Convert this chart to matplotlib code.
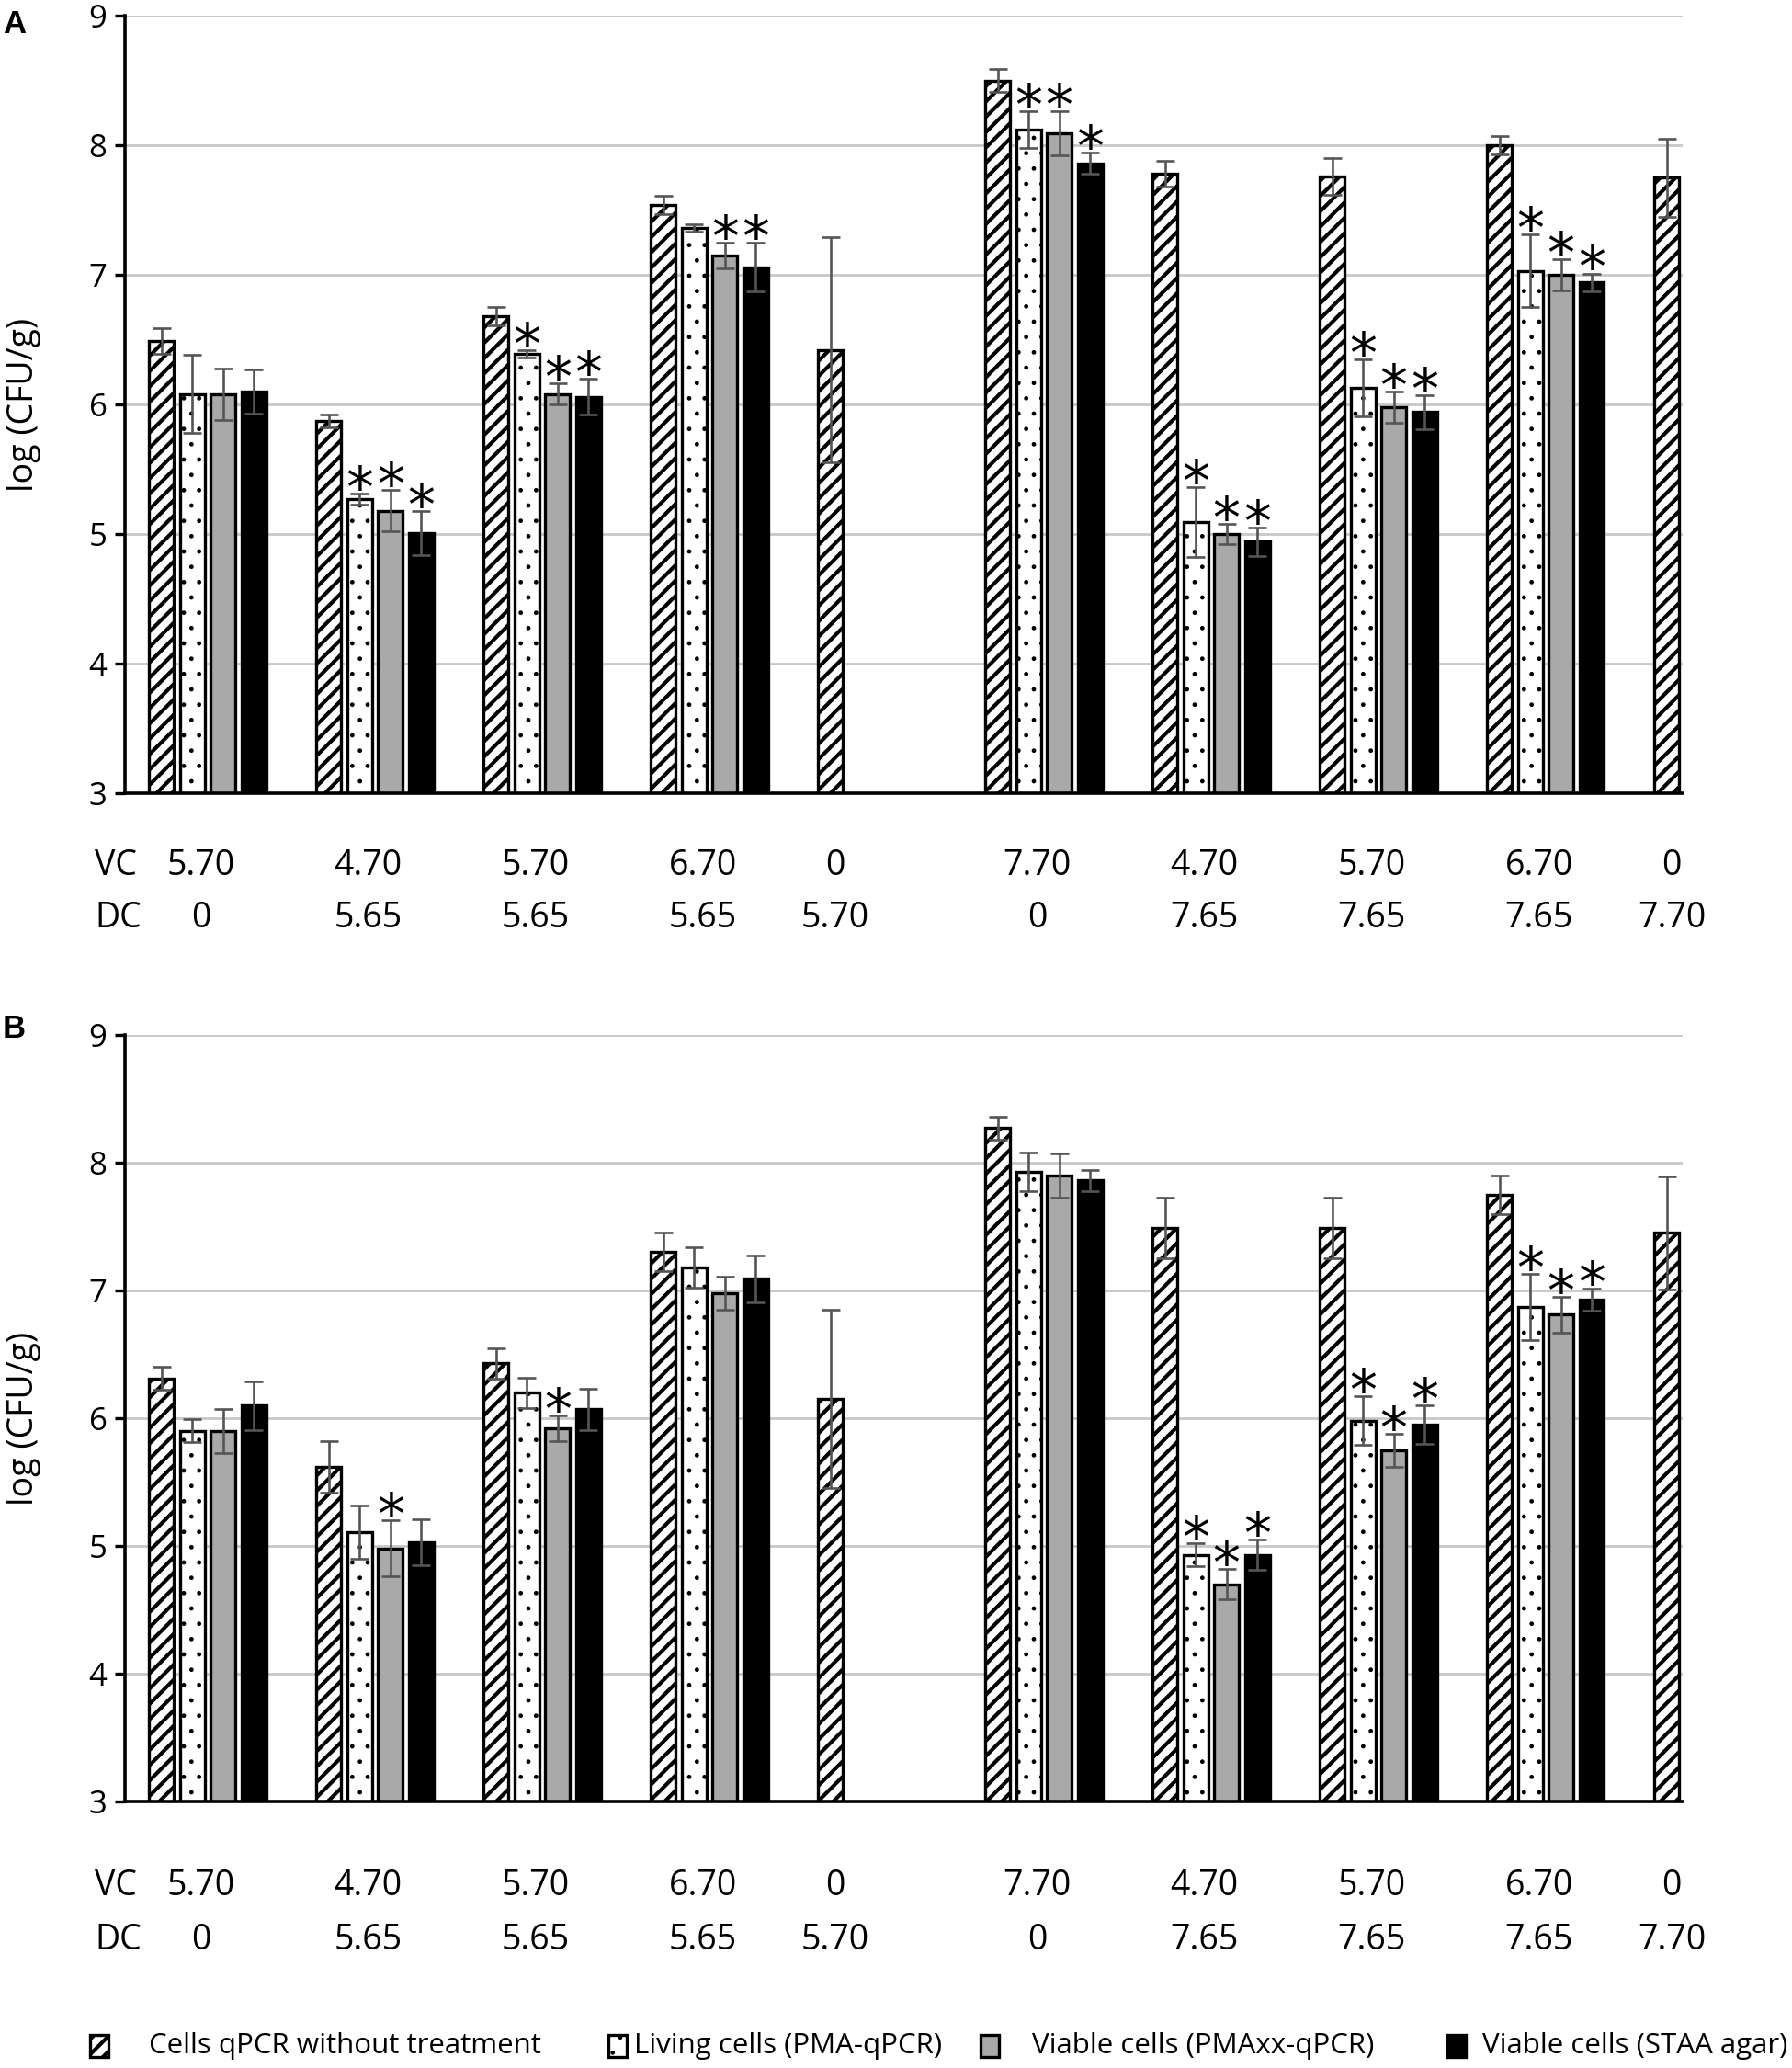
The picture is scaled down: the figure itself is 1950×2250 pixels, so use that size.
import numpy as np
import matplotlib
matplotlib.use('Agg')
import matplotlib.pyplot as plt
from matplotlib.patches import Rectangle
from matplotlib import transforms

plt.rcParams['font.family'] = ['Open Sans', 'DejaVu Sans']
plt.rcParams['hatch.linewidth'] = 3.0

nan = np.nan

# ---------------- data ----------------
vc_labels = ['5.70', '4.70', '5.70', '6.70', '0', '7.70', '4.70', '5.70', '6.70', '0']
dc_labels = ['0', '5.65', '5.65', '5.65', '5.70', '0', '7.65', '7.65', '7.65', '7.70']
series_names = ['Cells qPCR without treatment', 'Living cells (PMA-qPCR)',
                'Viable cells (PMAxx-qPCR)', 'Viable cells (STAA agar)']
yticks = [3, 4, 5, 6, 7, 8, 9]

# Panel A
A_qpcr = [6.49, 5.87, 6.68, 7.54, 6.42, 8.50, 7.78, 7.76, 8.00, 7.75]
A_qpcr_err = [0.10, 0.05, 0.07, 0.07, 0.87, 0.09, 0.10, 0.14, 0.07, 0.30]
A_pma = [6.08, 5.27, 6.39, 7.36, nan, 8.12, 5.09, 6.13, 7.03, nan]
A_pma_err = [0.30, 0.04, 0.03, 0.03, nan, 0.14, 0.27, 0.22, 0.28, nan]
A_pmaxx = [6.08, 5.18, 6.08, 7.15, nan, 8.09, 5.00, 5.98, 7.00, nan]
A_pmaxx_err = [0.20, 0.16, 0.08, 0.10, nan, 0.17, 0.08, 0.12, 0.12, nan]
A_staa = [6.10, 5.01, 6.06, 7.06, nan, 7.86, 4.94, 5.94, 6.94, nan]
A_staa_err = [0.17, 0.17, 0.14, 0.19, nan, 0.08, 0.11, 0.13, 0.07, nan]
A_qpcr_sig = [0, 0, 0, 0, 0, 0, 0, 0, 0, 0]
A_pma_sig = [0, 1, 1, 0, 0, 1, 1, 1, 1, 0]
A_pmaxx_sig = [0, 1, 1, 1, 0, 1, 1, 1, 1, 0]
A_staa_sig = [0, 1, 1, 1, 0, 1, 1, 1, 1, 0]

# Panel B
B_qpcr = [6.31, 5.62, 6.43, 7.30, 6.15, 8.27, 7.49, 7.49, 7.75, 7.45]
B_qpcr_err = [0.09, 0.20, 0.12, 0.15, 0.70, 0.09, 0.24, 0.24, 0.15, 0.44]
B_pma = [5.90, 5.11, 6.20, 7.18, nan, 7.93, 4.93, 5.98, 6.87, nan]
B_pma_err = [0.09, 0.21, 0.12, 0.16, nan, 0.15, 0.09, 0.19, 0.26, nan]
B_pmaxx = [5.90, 4.98, 5.92, 6.98, nan, 7.90, 4.70, 5.75, 6.81, nan]
B_pmaxx_err = [0.17, 0.22, 0.10, 0.13, nan, 0.17, 0.12, 0.13, 0.14, nan]
B_staa = [6.10, 5.03, 6.07, 7.09, nan, 7.86, 4.93, 5.95, 6.93, nan]
B_staa_err = [0.19, 0.18, 0.16, 0.18, nan, 0.08, 0.12, 0.15, 0.085, nan]
B_qpcr_sig = [0, 0, 0, 0, 0, 0, 0, 0, 0, 0]
B_pma_sig = [0, 0, 0, 0, 0, 0, 1, 1, 1, 0]
B_pmaxx_sig = [0, 1, 1, 0, 0, 0, 1, 1, 1, 0]
B_staa_sig = [0, 0, 0, 0, 0, 0, 1, 1, 1, 0]

# ---------------- styles ----------------
styles = [
    dict(fc='white', hatch='//', hlw=3.0),
    dict(fc='white', hatch='.', hlw=1.0),
    dict(fc='#a9a9a9', hatch=None, hlw=1.0),
    dict(fc='black', hatch=None, hlw=1.0),
]
slot = 0.184
bw = 0.148
ERR_COLOR = '#555555'
W, H = 1950, 2250

fig = plt.figure(figsize=(W / 100, H / 100), dpi=100)


def fx(px):
    return px / W


def fy(py):
    return 1 - py / H


def set_hlw(patch, lw):
    if hasattr(patch, 'set_hatch_linewidth'):
        try:
            patch.set_hatch_linewidth(lw)
        except Exception:
            pass


def draw_panel(ax, values, errors, sigs, vc_y, dc_y):
    n = len(vc_labels)
    x = np.arange(n)
    present = np.zeros((len(values), n), dtype=bool)
    for k, (vals, errs, sg) in enumerate(zip(values, errors, sigs)):
        sty = styles[k]
        vals = np.asarray(vals, float)
        errs = np.asarray(errs, float)
        mask = ~np.isnan(vals)
        present[k] = mask
        pos = x + (k - 1.5) * slot
        with plt.rc_context({'hatch.linewidth': sty['hlw']}):
            bars = ax.bar(pos[mask], vals[mask], width=bw, color=sty['fc'],
                          edgecolor='black', linewidth=2.4, hatch=sty['hatch'],
                          zorder=2)
        for b in bars:
            set_hlw(b, sty['hlw'])
        ax.errorbar(pos[mask], vals[mask], yerr=errs[mask], fmt='none',
                    ecolor=ERR_COLOR, elinewidth=1.9, capsize=7, capthick=1.9,
                    zorder=3)
        for i in range(n):
            if mask[i] and sg[i]:
                ax.annotate('*', xy=(pos[i], vals[i] + errs[i]), xytext=(0, -10),
                            textcoords='offset points', ha='center', va='baseline',
                            fontsize=43, family='DejaVu Sans', zorder=4)
    ax.set_xlim(-0.495, 8.82)
    ax.set_ylim(3, 9)
    ax.set_yticks(yticks)
    ax.set_xticks([])
    ax.yaxis.grid(True, color='#c8c8c8', linewidth=2.0)
    ax.set_axisbelow(True)
    for s in ['top', 'right']:
        ax.spines[s].set_visible(False)
    for s in ['left', 'bottom']:
        ax.spines[s].set_linewidth(2.6)
        ax.spines[s].set_color('black')
    ax.tick_params(axis='y', length=8, width=2.4, pad=6, labelsize=25)

    # VC / DC rows
    tr = transforms.blended_transform_factory(ax.transData, fig.transFigure)
    for i in range(n):
        ks = np.where(present[:, i])[0]
        shift = -0.04 if len(ks) > 1 else 0.03
        xl = np.mean(i + (ks - 1.5) * slot) + shift
        ax.text(xl, vc_y, vc_labels[i], transform=tr, ha='center', va='center',
                fontsize=27, clip_on=False)
        ax.text(xl, dc_y, dc_labels[i], transform=tr, ha='center', va='center',
                fontsize=27, clip_on=False)
    fig.text(fx(103), vc_y, 'VC', ha='left', va='center', fontsize=27)
    fig.text(fx(103), dc_y, 'DC', ha='left', va='center', fontsize=27)


# Panel A
axA = fig.add_axes([fx(136), fy(863), fx(1831) - fx(136), fy(17) - fy(863)])
draw_panel(axA, [A_qpcr, A_pma, A_pmaxx, A_staa],
           [A_qpcr_err, A_pma_err, A_pmaxx_err, A_staa_err],
           [A_qpcr_sig, A_pma_sig, A_pmaxx_sig, A_staa_sig], fy(942), fy(999))
fig.text(fx(26), fy(440), 'log (CFU/g)', rotation=90, ha='center', va='center',
         fontsize=27)
fig.text(fx(3), fy(10), 'A', ha='left', va='top', fontsize=25, fontweight='bold',
         family=['Liberation Sans', 'DejaVu Sans'])

# Panel B
axB = fig.add_axes([fx(136), fy(1960), fx(1831) - fx(136), fy(1126) - fy(1960)])
draw_panel(axB, [B_qpcr, B_pma, B_pmaxx, B_staa],
           [B_qpcr_err, B_pma_err, B_pmaxx_err, B_staa_err],
           [B_qpcr_sig, B_pma_sig, B_pmaxx_sig, B_staa_sig], fy(2052), fy(2111))
fig.text(fx(26), fy(1543), 'log (CFU/g)', rotation=90, ha='center', va='center',
         fontsize=27)
fig.text(fx(3), fy(1103), 'B', ha='left', va='top', fontsize=25, fontweight='bold',
         family=['Liberation Sans', 'DejaVu Sans'])

# Legend (bottom row)
leg_patch_x = [98, 662, 1067, 1575]
leg_text_x = [162, 690, 1123, 1613]
leg_y = 2226
for k in range(4):
    sty = styles[k]
    with plt.rc_context({'hatch.linewidth': sty['hlw']}):
        r = Rectangle((fx(leg_patch_x[k]), fy(leg_y + 12)), fx(20), 24 / H,
                      transform=fig.transFigure, facecolor=sty['fc'],
                      edgecolor='black', linewidth=2.4, hatch=sty['hatch'])
    set_hlw(r, sty['hlw'])
    fig.patches.append(r)
    fig.text(fx(leg_text_x[k]), fy(leg_y), series_names[k], ha='left', va='center',
             fontsize=22.5)

fig.savefig('out.png', dpi=100)
